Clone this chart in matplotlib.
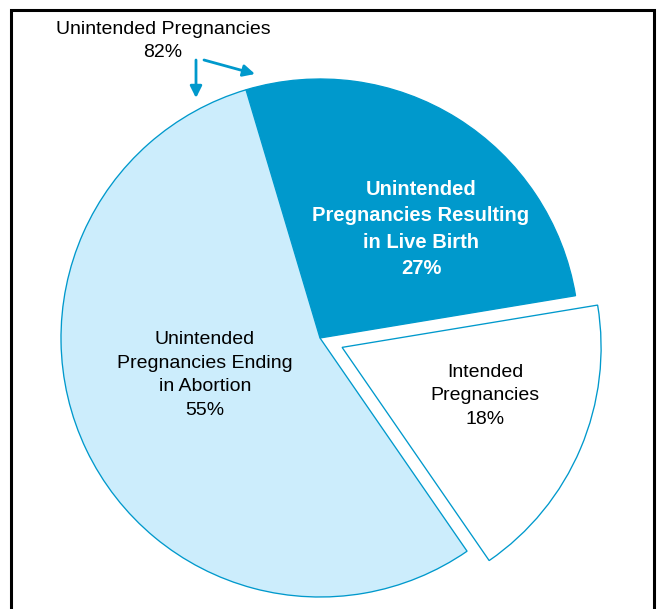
import matplotlib
matplotlib.use("Agg")
import matplotlib.pyplot as plt
from matplotlib.patches import Rectangle, FancyArrowPatch

plt.rcParams['font.family'] = ['Liberation Sans', 'DejaVu Sans']

# Pregnancy outcomes (share of all pregnancies, %)
labels = ["Unintended\nPregnancies Resulting\nin Live Birth",
          "Unintended\nPregnancies Ending\nin Abortion",
          "Intended\nPregnancies"]
values = [27, 55, 18]
unintended_total = 82

dark = "#0099CC"
light = "#CCEDFC"
colors = [dark, light, "white"]

W, H = 657, 609
fig = plt.figure(figsize=(W / 100, H / 100), dpi=100)
ax = fig.add_axes([0, 0, 1, 1])

cx, cy, r = 320, H - 338, 259
# explode is given in data units (pixels here), not as a fraction of radius
explode = [0, 0, 24]
wedges, _ = ax.pie(values, colors=colors, explode=explode, startangle=9.4,
                   counterclock=True, center=(cx, cy), radius=r,
                   wedgeprops=dict(edgecolor=dark, linewidth=0.95),
                   frame=True)
ax.set_xlim(0, W)
ax.set_ylim(0, H)
ax.set_aspect('equal')
ax.axis('off')

ls = 1.5
# Slice labels
ax.text(421, H - 229, f"{labels[0]}\n{values[0]}%", ha='center', va='center',
        fontsize=14.5, fontweight='bold', color='white', linespacing=ls)
ax.text(205, H - 375, f"{labels[1]}\n{values[1]}%", ha='center', va='center',
        fontsize=14, color='black', linespacing=ls)
ax.text(485, H - 396, f"{labels[2]}\n{values[2]}%", ha='center', va='center',
        fontsize=14, color='black', linespacing=ls)

# Combined unintended share with arrows
ax.text(163, H - 41, f"Unintended Pregnancies\n{unintended_total}%",
        ha='center', va='center', fontsize=14, color='black', linespacing=ls)
for (x0, y0), (x1, y1) in [((196, 60), (196, 98)), ((204, 60), (255, 74))]:
    ax.add_patch(FancyArrowPatch((x0, H - y0), (x1, H - y1),
                                 arrowstyle='-|>,head_length=7,head_width=3.5',
                                 color=dark, linewidth=2, shrinkA=0, shrinkB=0,
                                 mutation_scale=1))

# Outer frame (open at the bottom edge of the image)
ax.add_patch(Rectangle((11, -10), 643, H, fill=False,
                       edgecolor='black', linewidth=2.2, clip_on=False))

fig.savefig("out.png", dpi=100)
